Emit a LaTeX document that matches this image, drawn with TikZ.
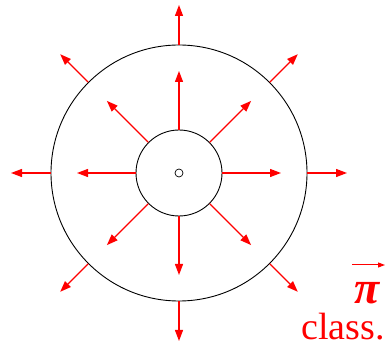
\documentclass[tikz,border=0pt]{standalone}
\usepackage{fontspec}
\setmainfont{Liberation Serif}
\usetikzlibrary{arrows.meta,calc}
\begin{document}
\begin{tikzpicture}[x=1pt,y=-1pt,
  ring/.style={circle,draw=black,line width=0.9pt,inner sep=0pt},
  ray/.style={draw=red,line width=1.3pt,-{Triangle[length=11pt,width=8pt]}},
  lbl/.style={text=red,inner sep=0pt}]
\useasboundingbox (0,0) rectangle (386,347);
\coordinate (C) at (179,173);
\node[ring,minimum size=256pt] (outer) at (C) {};
\node[ring,minimum size=86pt] (inner) at (C) {};
\node[ring,minimum size=8pt,line width=0.7pt] (dot) at (C) {};
\foreach \a in {0,45,...,315}{
  \coordinate (ti\a) at ($(C)!102pt!(inner.\a)$);
  \coordinate (to\a) at ($(C)!168pt!(outer.\a)$);
  \draw[ray] (inner.\a) -- (ti\a);
  \draw[ray] (outer.\a) -- (to\a);
}
\node[lbl,anchor=base,font=\fontsize{46}{46}\selectfont\bfseries\itshape] (pi) at (367,304) {π};
\coordinate (pa) at (352,265);
\coordinate (pb) at (385,265);
\draw[red,line width=1pt,-{Triangle[length=7pt,width=5pt]}] (pa) -- (pb);
\node[lbl,anchor=base east,font=\fontsize{38}{38}\selectfont] (cls) at (385,340) {class.};
\end{tikzpicture}
\end{document}
